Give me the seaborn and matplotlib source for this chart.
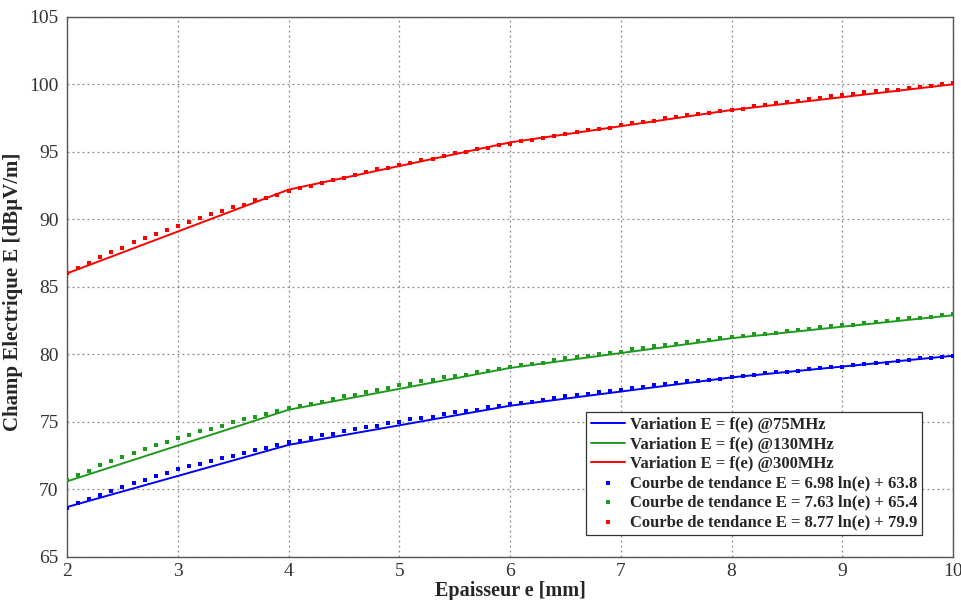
import numpy as np
import pandas as pd
import matplotlib
matplotlib.use("Agg")
import matplotlib.pyplot as plt
import seaborn as sns

# ---- data ----
x_meas = [2, 4, 6, 8, 10]
e_75 = [68.7, 73.3, 76.2, 78.3, 79.9]
e_130 = [70.6, 75.9, 79.0, 81.2, 82.9]
e_300 = [86.0, 92.2, 95.7, 98.1, 100.0]

x_trend = np.linspace(2, 10, 81)
t_75 = [68.6, 69.0, 69.3, 69.6, 69.9, 70.2, 70.5, 70.7, 71.0, 71.2,
        71.5, 71.7, 71.9, 72.1, 72.3, 72.5, 72.7, 72.9, 73.1, 73.3,
        73.5, 73.6, 73.8, 74.0, 74.1, 74.3, 74.5, 74.6, 74.7, 74.9,
        75.0, 75.2, 75.3, 75.4, 75.6, 75.7, 75.8, 75.9, 76.1, 76.2,
        76.3, 76.4, 76.5, 76.6, 76.8, 76.9, 77.0, 77.1, 77.2, 77.3,
        77.4, 77.5, 77.6, 77.7, 77.8, 77.9, 78.0, 78.0, 78.1, 78.2,
        78.3, 78.4, 78.5, 78.6, 78.7, 78.7, 78.8, 78.9, 79.0, 79.1,
        79.1, 79.2, 79.3, 79.4, 79.4, 79.5, 79.6, 79.7, 79.7, 79.8, 79.9]
t_130 = [70.7, 71.1, 71.4, 71.8, 72.1, 72.4, 72.7, 73.0, 73.3, 73.5,
         73.8, 74.0, 74.3, 74.5, 74.7, 75.0, 75.2, 75.4, 75.6, 75.8,
         76.0, 76.2, 76.3, 76.5, 76.7, 76.9, 77.0, 77.2, 77.4, 77.5,
         77.7, 77.8, 78.0, 78.1, 78.3, 78.4, 78.5, 78.7, 78.8, 78.9,
         79.1, 79.2, 79.3, 79.4, 79.6, 79.7, 79.8, 79.9, 80.0, 80.1,
         80.2, 80.4, 80.5, 80.6, 80.7, 80.8, 80.9, 81.0, 81.1, 81.2,
         81.3, 81.4, 81.5, 81.5, 81.6, 81.7, 81.8, 81.9, 82.0, 82.1,
         82.2, 82.2, 82.3, 82.4, 82.5, 82.6, 82.7, 82.7, 82.8, 82.9, 83.0]
t_300 = [86.0, 86.4, 86.8, 87.2, 87.6, 87.9, 88.3, 88.6, 88.9, 89.2,
         89.5, 89.8, 90.1, 90.4, 90.6, 90.9, 91.1, 91.4, 91.6, 91.8,
         92.1, 92.3, 92.5, 92.7, 92.9, 93.1, 93.3, 93.5, 93.7, 93.8,
         94.0, 94.2, 94.4, 94.5, 94.7, 94.9, 95.0, 95.2, 95.3, 95.5,
         95.6, 95.8, 95.9, 96.0, 96.2, 96.3, 96.5, 96.6, 96.7, 96.8,
         97.0, 97.1, 97.2, 97.3, 97.5, 97.6, 97.7, 97.8, 97.9, 98.0,
         98.1, 98.2, 98.4, 98.5, 98.6, 98.7, 98.8, 98.9, 99.0, 99.1,
         99.2, 99.3, 99.4, 99.5, 99.6, 99.6, 99.7, 99.8, 99.9, 100.0, 100.1]

line_labels = ["Variation E = f(e) @75MHz",
               "Variation E = f(e) @130MHz",
               "Variation E = f(e) @300MHz"]
trend_labels = ["Courbe de tendance E = 6.98 ln(e) + 63.8",
                "Courbe de tendance E = 7.63 ln(e) + 65.4",
                "Courbe de tendance E = 8.77 ln(e) + 79.9"]
x_ticks = [2, 3, 4, 5, 6, 7, 8, 9, 10]
y_ticks = [65, 70, 75, 80, 85, 90, 95, 100, 105]
colors = ["#0000ff", "#1f9a1f", "#ff0000"]

sns.set_style("white")
plt.rcParams["font.family"] = ["Liberation Serif", "DejaVu Serif"]

fig = plt.figure(figsize=(9.62, 6.0), dpi=100)
ax = fig.add_axes([0.0697, 0.0717, 0.921, 0.9003])

meas = [e_75, e_130, e_300]
trends = [t_75, t_130, t_300]

for vals, lab, c in zip(meas, line_labels, colors):
    df = pd.DataFrame({"x": x_meas, "y": vals})
    sns.lineplot(data=df, x="x", y="y", ax=ax, color=c, linewidth=1.4,
                 label=lab, zorder=3)
for vals, lab, c in zip(trends, trend_labels, colors):
    df = pd.DataFrame({"x": x_trend, "y": vals})
    sns.scatterplot(data=df, x="x", y="y", ax=ax, color=c, marker="s",
                    s=6, linewidth=0, label=lab, zorder=4)

ax.set_xlim(2, 10)
ax.set_ylim(65, 105)
ax.set_xticks(x_ticks)
ax.set_yticks(y_ticks)
ax.set_xticklabels([str(v) for v in x_ticks], fontsize=14, color="#333333")
ax.set_yticklabels([str(v) for v in y_ticks], fontsize=14, color="#333333")
ax.tick_params(axis="both", direction="in", length=5, color="#444444")
ax.tick_params(axis="y", pad=6)
ax.tick_params(axis="x", pad=4)
ax.grid(True, linestyle=(0, (1.5, 2.5)), color="#888888", linewidth=0.9)
for sp in ax.spines.values():
    sp.set_color("#555555")
    sp.set_linewidth(1.0)

ax.set_xlabel("Epaisseur e [mm]", fontsize=14.5, fontweight="bold",
              labelpad=1)
ax.set_ylabel("Champ Electrique E [dBµV/m]", fontsize=15, fontweight="bold")
ax.yaxis.set_label_coords(-0.0497, 0.49)

leg = ax.legend(loc="lower right", bbox_to_anchor=(0.965, 0.0407),
                borderaxespad=0, prop={"size": 12, "weight": "bold"},
                frameon=True, fancybox=False, edgecolor="#333333",
                framealpha=1, labelspacing=0.2, handlelength=2.0,
                handletextpad=0.3, borderpad=0.3, markerscale=1.2)
leg.get_frame().set_linewidth(0.9)

fig.savefig("out.png", dpi=100)
